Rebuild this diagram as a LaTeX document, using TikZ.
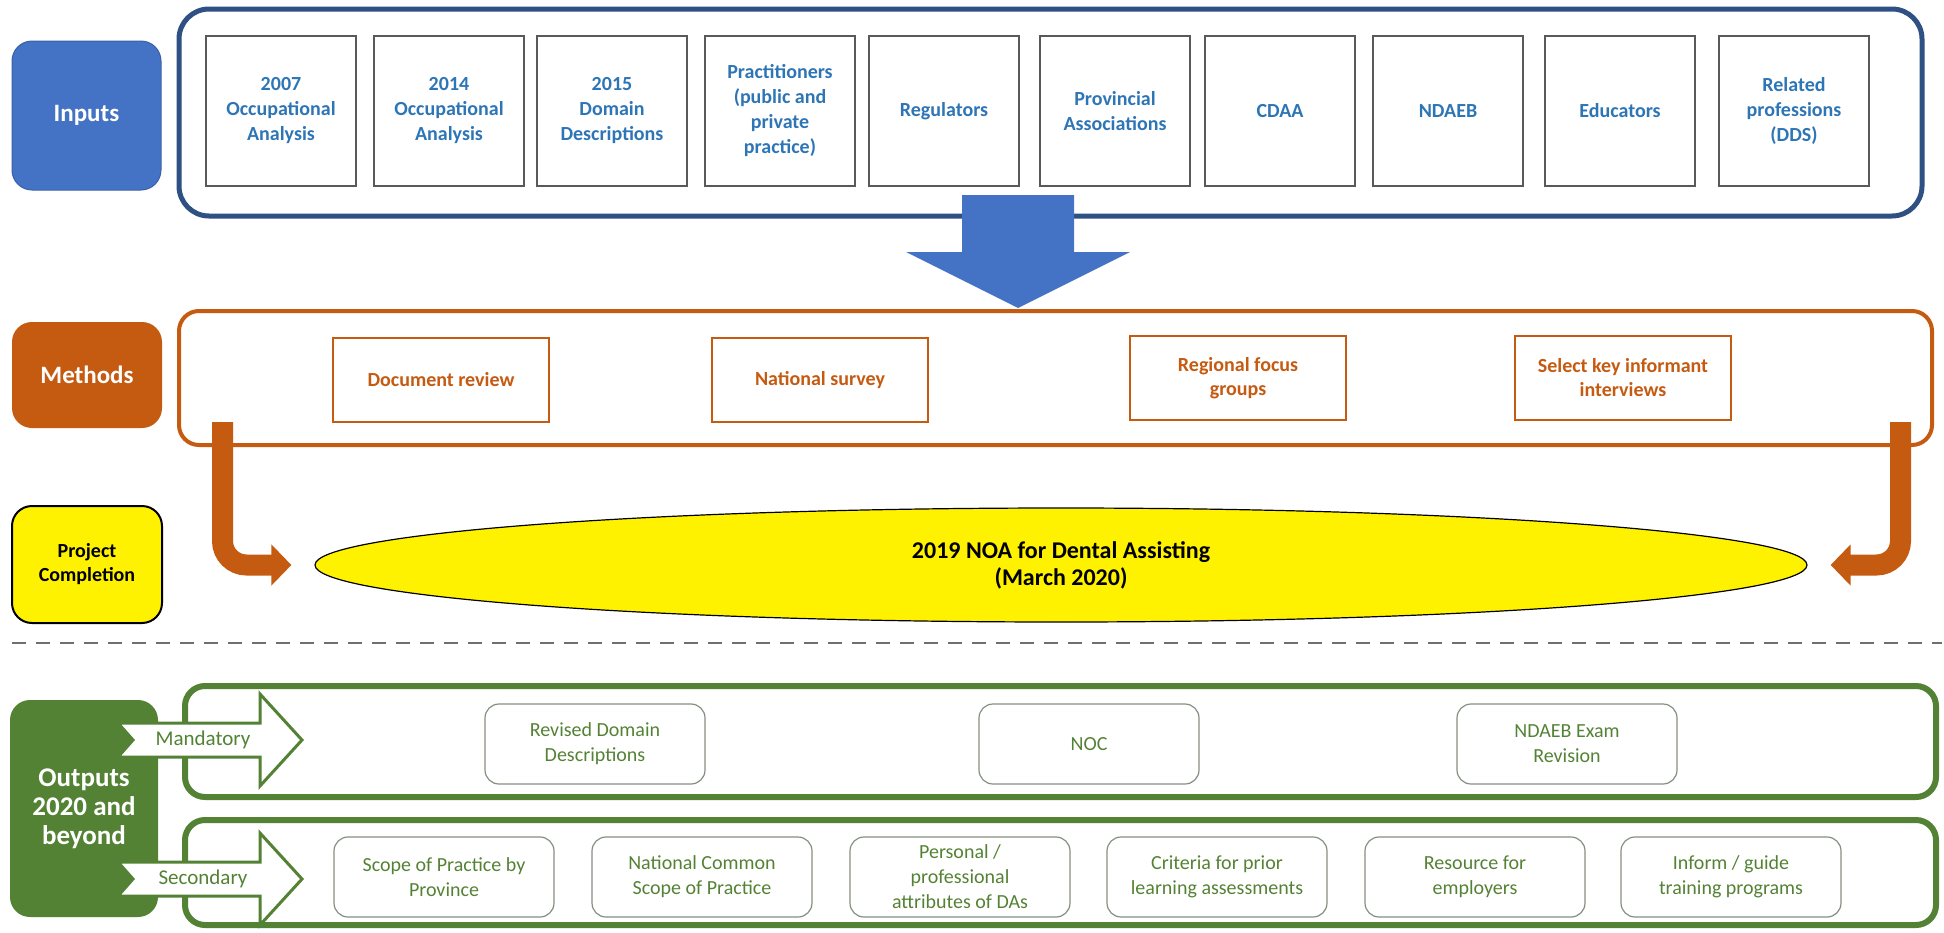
\documentclass[tikz,border=0pt]{standalone}
\usepackage{fontspec}
\setmainfont{Carlito}
\usetikzlibrary{shapes.geometric,arrows.meta}
\definecolor{inblue}{HTML}{4472C4}
\definecolor{frameblue}{HTML}{2F5082}
\definecolor{textblue}{HTML}{2E75B6}
\definecolor{boxdark}{HTML}{595959}
\definecolor{methorange}{HTML}{C55A11}
\definecolor{outgreen}{HTML}{548235}
\definecolor{boxgray}{HTML}{858F80}
\definecolor{cutgray}{HTML}{6F6F6F}

\begin{document}
\begin{tikzpicture}[x=0.5pt, y=-0.5pt,
    sidetag/.style={rounded corners=10pt, align=center, inner sep=0pt, text=white, font=\fontsize{12.5}{15}\selectfont\bfseries},
    inframe/.style={draw=frameblue, line width=2.5pt, rounded corners=15pt, minimum width=871.5pt, minimum height=103.5pt},
    methframe/.style={draw=methorange, line width=2pt, rounded corners=10pt, minimum width=876.5pt, minimum height=67pt},
    outframe/.style={draw=outgreen, line width=3pt, rounded corners=10pt, minimum width=875.5pt},
    inbox/.style={draw=boxdark, line width=0.75pt, minimum width=75pt, minimum height=75pt, align=center, text=textblue, font=\fontsize{10}{12.5}\selectfont\bfseries},
    methbox/.style={draw=methorange, line width=0.6pt, minimum width=108pt, minimum height=42pt, align=center, text=methorange, font=\fontsize{10}{12}\selectfont\bfseries},
    outbox/.style={draw=boxgray, line width=0.6pt, rounded corners=7pt, minimum width=110pt, minimum height=40pt, align=center, text=outgreen, font=\fontsize{10}{12.5}\selectfont},
    goal/.style={ellipse, draw=black, line width=0.6pt, fill=yellow, minimum width=746pt, minimum height=57pt, inner sep=0pt, align=center, font=\fontsize{12}{13.5}\selectfont\bfseries},
    bentflow/.style={draw=methorange, line width=10.5pt, rounded corners=12pt, -{Triangle[length=10pt,width=20pt]}},
    bigarrow/.style={fill=inblue},
    kindarrow/.style={draw=outgreen, line width=1.5pt, fill=white},
    kindtext/.style={text=outgreen, font=\fontsize{10.5}{12}\selectfont, inner sep=0pt},
    divider/.style={draw=cutgray, line width=1pt, dash pattern=on 7pt off 5pt}
]
\useasboundingbox (0,0) rectangle (1944,932);

\node[sidetag, fill=inblue, draw=inblue!85!black, line width=0.5pt, minimum width=74.5pt, minimum height=74.5pt] (inputs) at (86.5,115.5) {Inputs};
\node[inframe] (inframe) at (1050.5,112.5) {};
\foreach \x/\txt [count=\i] in {281/{2007\\Occupational\\Analysis}, 449/{2014\\Occupational\\Analysis}, 612/{2015\\Domain\\Descriptions}, 780/{Practitioners\\(public and\\private\\practice)}, 944/Regulators, 1115/{Provincial\\Associations}, 1280/CDAA, 1448/NDAEB, 1620/Educators, 1794/{Related\\professions\\(DDS)}}
    \node[inbox] (in\i) at (\x,111) {\txt};

\node[sidetag, fill=methorange, minimum width=75pt, minimum height=53pt] (methods) at (87,375) {Methods};
\node[methframe] (methframe) at (1055.5,378) {};
\node[methbox] (review) at (441,380) {Document review};
\node[methbox] (survey) at (820,380) {National survey};
\node[methbox] (focus) at (1238,378) {Regional focus\\groups};
\node[methbox] (interviews) at (1623,378) {Select key informant\\interviews};

\fill[bigarrow] (962,195) -- (1074,195) -- (1074,252) -- (1130,252) -- (1018,308) -- (906,252) -- (962,252) -- cycle;

\node[sidetag, fill=yellow, draw=black, line width=1pt, text=black, font=\fontsize{10}{12}\selectfont\bfseries, minimum width=75pt, minimum height=58.5pt] (completion) at (87,564.5) {Project\\Completion};
\node[goal] (noa) at (1061,565) {2019 NOA for Dental Assisting\\(March 2020)};

\coordinate (lstart) at (222.5,422);
\coordinate (rstart) at (1900.5,422);
\draw[bentflow] (lstart) |- ([xshift=-11.5pt]noa.west);
\draw[bentflow] (rstart) |- ([xshift=11.5pt]noa.east);

\coordinate (cutl) at (12,643);
\coordinate (cutr) at (1942,643);
\draw[divider] (cutl) -- (cutr);

\node[sidetag, fill=outgreen, font=\fontsize{13.5}{14.5}\selectfont\bfseries, minimum width=74pt, minimum height=108.5pt] (outputs) at (84,808.5) {Outputs\\2020 and\\beyond};
\node[outframe, minimum height=55.5pt] (mandframe) at (1060.5,741.5) {};
\node[outframe, minimum height=52.5pt] (secframe) at (1060.5,872.5) {};

\node[outbox] (domain) at (595,744) {Revised Domain\\Descriptions};
\node[outbox] (noc) at (1089,744) {NOC};
\node[outbox] (exam) at (1567,744) {NDAEB Exam\\Revision};

\node[outbox] (scope) at (444,877) {Scope of Practice by\\Province};
\node[outbox] (common) at (702,877) {National Common\\Scope of Practice};
\node[outbox] (attributes) at (960,877) {Personal /\\professional\\attributes of DAs};
\node[outbox] (criteria) at (1217,877) {Criteria for prior\\learning assessments};
\node[outbox] (employers) at (1475,877) {Resource for\\employers};
\node[outbox] (training) at (1731,877) {Inform / guide\\training programs};

\foreach \kind/\yy in {Mandatory/740, Secondary/879} {
    \draw[kindarrow] (118,\yy-17) -- (260,\yy-17) -- (260,\yy-46) -- (302,\yy) -- (260,\yy+46) -- (260,\yy+17) -- (118,\yy+17) -- (133,\yy) -- cycle;
    \node[kindtext] (\kind) at (203,\yy) {\kind};
}
\end{tikzpicture}
\end{document}
